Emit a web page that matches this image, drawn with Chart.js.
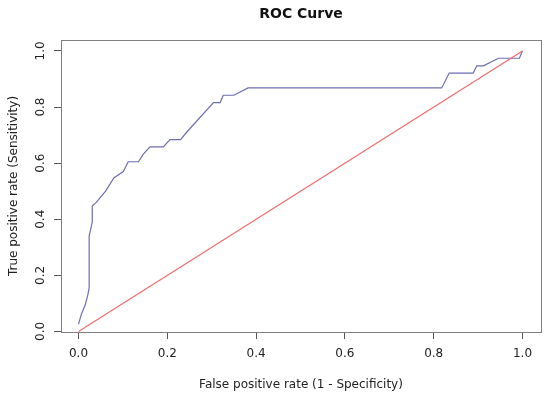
<!DOCTYPE html>
<html>
<head>
<meta charset="utf-8">
<script src="https://cdn.jsdelivr.net/npm/chart.js@4.4.0/dist/chart.umd.min.js"></script>
<style>
  html, body { margin: 0; padding: 0; background: #fff; }
  #wrap { width: 550px; height: 398px; }
</style>
</head>
<body>
<div id="wrap"><canvas id="rocChart"></canvas></div>
<script>
// ROC curve points (false positive rate / true positive rate)
const fpr = [0.000, 0.006, 0.015, 0.021, 0.024, 0.024, 0.031, 0.031, 0.040, 0.061,
             0.080, 0.101, 0.112, 0.135, 0.146, 0.161, 0.191, 0.206, 0.230, 0.244,
             0.304, 0.319, 0.326, 0.350, 0.382, 0.818, 0.835, 0.889, 0.897, 0.912,
             0.946, 0.993, 1.000];
const tpr = [0.026, 0.059, 0.094, 0.130, 0.155, 0.340, 0.390, 0.447, 0.460, 0.500,
             0.548, 0.570, 0.605, 0.605, 0.632, 0.658, 0.658, 0.684, 0.684, 0.711,
             0.816, 0.816, 0.842, 0.842, 0.868, 0.868, 0.921, 0.921, 0.947, 0.947,
             0.974, 0.974, 1.000];
// reference diagonal
const diagX = [0, 1];
const diagY = [0, 1];

const xTicks = [0, 0.2, 0.4, 0.6, 0.8, 1.0];
const yTicks = [0, 0.2, 0.4, 0.6, 0.8, 1.0];

const toPoints = (xs, ys) => xs.map((x, i) => ({ x: x, y: ys[i] }));

Chart.defaults.font.family = '"DejaVu Sans", sans-serif';
Chart.defaults.color = '#222';

// R style frame around the plot plus the main title
const rFrame = {
    id: 'rFrame',
    afterDraw(chart) {
        const { ctx, chartArea: a } = chart;
        ctx.save();
        ctx.strokeStyle = '#808080';
        ctx.lineWidth = 1;
        ctx.strokeRect(Math.round(a.left) + 0.5, Math.round(a.top) + 0.5,
                       Math.round(a.right - a.left), Math.round(a.bottom - a.top));
        ctx.fillStyle = '#111';
        ctx.font = 'bold 14px "DejaVu Sans", sans-serif';
        ctx.textAlign = 'center';
        ctx.textBaseline = 'middle';
        ctx.fillText('ROC Curve', (a.left + a.right) / 2, 14);
        ctx.restore();
    }
};

const ctx = document.getElementById('rocChart').getContext('2d');
const rocChart = new Chart(ctx, {
    type: 'scatter',
    data: {
        datasets: [{
            label: 'Chance',
            data: toPoints(diagX, diagY),
            showLine: true,
            borderColor: '#ee6b6b',
            borderWidth: 1.2,
            pointRadius: 0,
            order: 0
        }, {
            label: 'ROC',
            data: toPoints(fpr, tpr),
            showLine: true,
            borderColor: '#6d6db3',
            borderWidth: 1.2,
            pointRadius: 0,
            order: 1
        }]
    },
    options: {
        responsive: true,
        maintainAspectRatio: false,
        animation: false,
        layout: { padding: { top: 40, right: 9, left: 0, bottom: 0 } },
        plugins: {
            legend: { display: false },
            tooltip: { enabled: false }
        },
        scales: {
            x: {
                type: 'linear',
                min: -0.0394,
                max: 1.0417,
                afterBuildTicks: s => { s.ticks = xTicks.map(v => ({ value: v })); },
                afterFit: s => { s.height = 66; },
                ticks: {
                    font: { size: 12 },
                    padding: 8,
                    callback: v => v.toFixed(1)
                },
                grid: {
                    drawOnChartArea: false,
                    tickLength: 7,
                    color: '#555'
                },
                border: { display: false },
                title: {
                    display: true,
                    text: 'False positive rate (1 - Specificity)',
                    font: { size: 12 },
                    padding: { top: 0, bottom: 6 }
                }
            },
            y: {
                type: 'linear',
                min: -0.002,
                max: 1.039,
                afterBuildTicks: s => { s.ticks = yTicks.map(v => ({ value: v })); },
                afterFit: s => { s.width = 61; },
                ticks: {
                    font: { size: 12 },
                    padding: 4,
                    minRotation: 90,
                    maxRotation: 90,
                    crossAlign: 'center',
                    callback: v => v.toFixed(1)
                },
                grid: {
                    drawOnChartArea: false,
                    tickLength: 7,
                    color: '#555'
                },
                border: { display: false },
                title: {
                    display: true,
                    text: 'True positive rate (Sensitivity)',
                    font: { size: 12 },
                    padding: { top: 7, bottom: 0 }
                }
            }
        }
    },
    plugins: [rFrame]
});
</script>
</body>
</html>
